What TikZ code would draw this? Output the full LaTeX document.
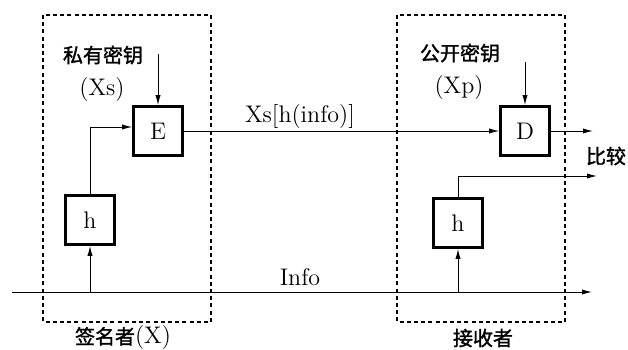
\documentclass[tikz,border=0pt]{standalone}
\usepackage{fontspec}
\newfontfamily\cjk{Noto Sans CJK SC}[FakeBold=1.5]
\usetikzlibrary{arrows.meta}
\tikzset{
  blk/.style={draw, line width=1.3pt, minimum width=24.5pt, minimum height=24.5pt, inner sep=0pt},
  zone/.style={draw, line width=0.6pt, dash pattern=on 2pt off 1.6pt},
  flow/.style={-{Latex[length=5pt,width=2.6pt]}, line width=0.5pt},
  han/.style={font=\normalsize\cjk},
}
\begin{document}
\begin{tikzpicture}[x=0.5pt, y=-0.5pt, font=\large]
        \useasboundingbox (0,0) rectangle (628,349);
        % zones
        \draw[zone] (43,15) rectangle (211,322);
        \draw[zone] (397,15) rectangle (565,322);
        % node
        \node[blk] (E) at (158,131) {E};
        \node[blk] (hs) at (90,220) {h};
        \node[blk] (D) at (525,131) {D};
        \node[blk] (hr) at (458,223) {h};
        % labels
        \node[han] (skey) at (103,55) {私有密钥};
        \node (xs) at (102,90) {(Xs)};
        \node[han] (pkey) at (460,53) {公开密钥};
        \node (xp) at (459,88) {(Xp)};
        \node (sig) at (300,117) {Xs[h(info)]};
        \node (info) at (300,277) {Info};
        \node[han] (cmp) at (606,156) {比较};
        \node (signer) at (123,338) {{\normalsize\cjk 签名者}(X)};
        \node[han] (recv) at (483,338) {接收者};
        % ends
        \coordinate (ins) at (12,292);
        \coordinate (ine) at (592,292);
        \coordinate (ek) at (158,54);
        \coordinate (dk) at (525,62);
        \coordinate (dout) at (593,131);
        \coordinate (hout) at (597,176);
        % lines
        \draw[flow] (ins) -- (ine);
        \draw[flow] (hs |- ins) -- (hs.south);
        \draw[flow] (hr |- ins) -- (hr.south);
        \draw[flow] (hs.north) |- ([yshift=2pt]E.west);
        \draw[flow] (ek) -- (E.north);
        \draw[flow] (dk) -- (D.north);
        \draw[flow] (E.east) -- (D.west);
        \draw[flow] (D.east) -- (dout);
        \draw[flow] (hr.north) |- (hout);
      \end{tikzpicture}
\end{document}
